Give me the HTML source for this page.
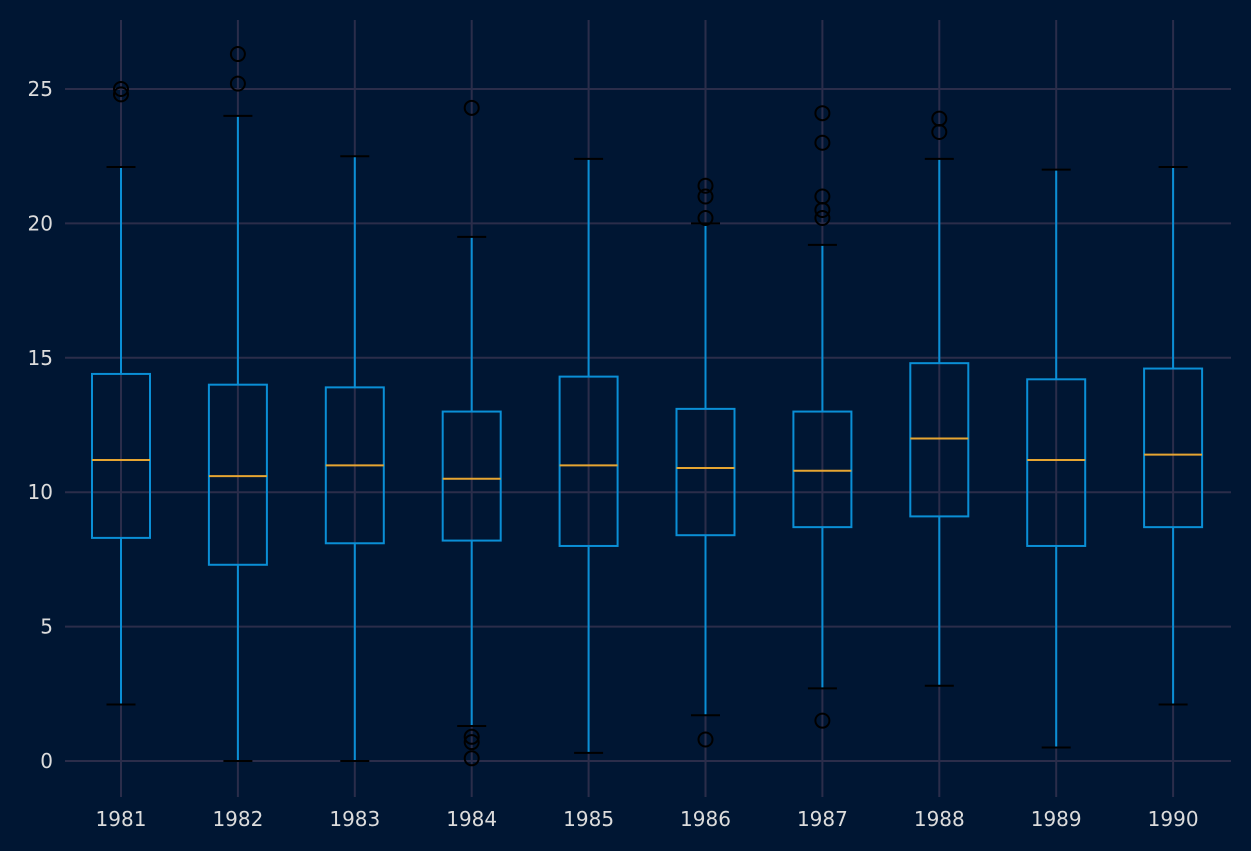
<!DOCTYPE html>
<html><head><meta charset="utf-8"><style>
html,body{margin:0;padding:0;background:#001633;}
svg{display:block;font-family:"DejaVu Sans","Liberation Sans",sans-serif;}
</style></head><body>
<svg id="chart" width="1251" height="851" viewBox="0 0 1251 851">
<rect x="0" y="0" width="1251" height="851" fill="#001633"/>
<g id="grid"></g>
<g id="boxes"></g>
<g id="ticks"></g>
</svg>
<script>
const categories = ['1981','1982','1983','1984','1985','1986','1987','1988','1989','1990'];
const whiskerLow  = [2.1, 0.0, 0.0, 1.3, 0.3, 1.7, 2.7, 2.8, 0.5, 2.1];
const q1Values    = [8.3, 7.3, 8.1, 8.2, 8.0, 8.4, 8.7, 9.1, 8.0, 8.7];
const medians     = [11.2,10.6,11.0,10.5,11.0,10.9,10.8,12.0,11.2,11.4];
const q3Values    = [14.4,14.0,13.9,13.0,14.3,13.1,13.0,14.8,14.2,14.6];
const whiskerHigh = [22.1,24.0,22.5,19.5,22.4,20.0,19.2,22.4,22.0,22.1];
const outliers    = [[24.8,25.0],[25.2,26.3],[],[24.3,0.9,0.7,0.1],[],[20.2,21.0,21.4,0.8],[20.2,20.5,21.0,23.0,24.1,1.5],[23.4,23.9],[],[]];
const yTicks = [0,5,10,15,20,25];

const NS='http://www.w3.org/2000/svg';
const y = v => 761 - v*26.88;
const x = i => 121 + i*116.9;
const plotTop=20, plotBottom=797, plotLeft=65, plotRight=1231;
function mk(tag, attrs, parent){const e=document.createElementNS(NS,tag);for(const k in attrs)e.setAttribute(k,attrs[k]);parent.appendChild(e);return e;}
const grid=document.getElementById('grid'), boxes=document.getElementById('boxes'), ticks=document.getElementById('ticks');
const gc='#2b2d4a';
yTicks.forEach(t=>{
  const l=mk('line',{x1:plotLeft,x2:plotRight,y1:y(t),y2:y(t),stroke:gc,'stroke-width':2},grid);
  
  
  const tx=mk('text',{x:53,y:y(t)+7,'text-anchor':'end','font-size':20,fill:'#dcdcdc'},ticks);
  tx.textContent=t;
  
  
});
categories.forEach((c,i)=>{
  const l=mk('line',{x1:x(i),x2:x(i),y1:plotTop,y2:plotBottom,stroke:gc,'stroke-width':2},grid);
  
  
  const tx=mk('text',{x:x(i),y:826,'text-anchor':'middle','font-size':20,fill:'#dcdcdc'},ticks);
  tx.textContent=c;
  
  
  const g=mk('g',{},boxes);
  
  
  const bc='#0a8fd6', hw=29, cw=14.5;
  mk('line',{x1:x(i),x2:x(i),y1:y(q3Values[i]),y2:y(whiskerHigh[i]),stroke:bc,'stroke-width':2},g);
  mk('line',{x1:x(i),x2:x(i),y1:y(q1Values[i]),y2:y(whiskerLow[i]),stroke:bc,'stroke-width':2},g);
  mk('line',{x1:x(i)-cw,x2:x(i)+cw,y1:y(whiskerHigh[i]),y2:y(whiskerHigh[i]),stroke:'#000','stroke-width':2},g);
  mk('line',{x1:x(i)-cw,x2:x(i)+cw,y1:y(whiskerLow[i]),y2:y(whiskerLow[i]),stroke:'#000','stroke-width':2},g);
  mk('rect',{x:x(i)-hw,y:y(q3Values[i]),width:hw*2,height:y(q1Values[i])-y(q3Values[i]),fill:'none',stroke:bc,'stroke-width':2},g);
  mk('line',{x1:x(i)-hw,x2:x(i)+hw,y1:y(medians[i]),y2:y(medians[i]),stroke:'#e6a532','stroke-width':2},g);
  outliers[i].forEach(o=>{
    const ci=mk('circle',{cx:x(i),cy:y(o),r:7,fill:'none',stroke:'#000','stroke-width':2},g);
    
    
  });
});
</script>
</body></html>
